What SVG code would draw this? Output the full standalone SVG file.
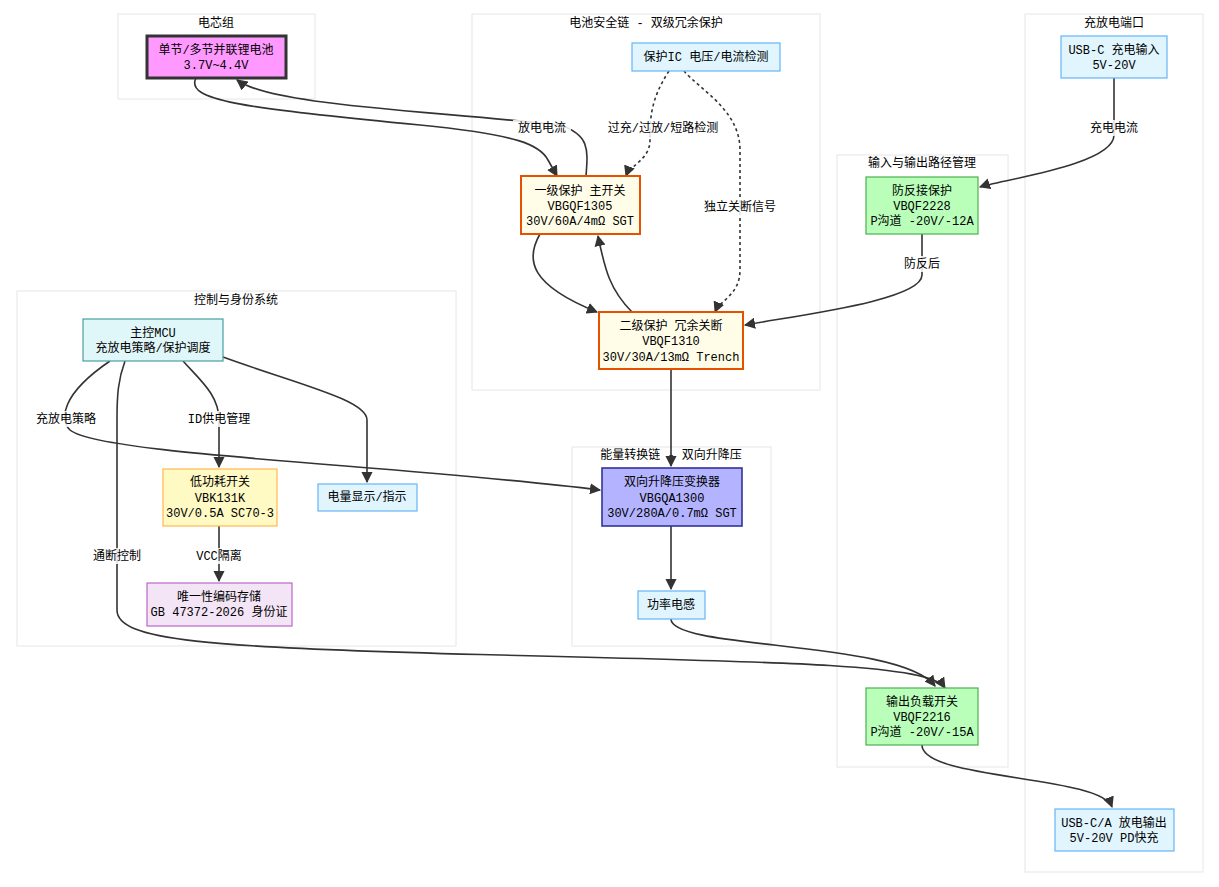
<svg xmlns="http://www.w3.org/2000/svg" width="1219" height="887" viewBox="0 0 1219 887">
<defs>
<marker id="ah" viewBox="0 0 10 10" refX="9" refY="5" markerWidth="7" markerHeight="7" orient="auto-start-reverse"><path d="M0,0 L10,5 L0,10 z" fill="#333"/></marker>
<style>
text{font-family:"Liberation Mono","Noto Sans CJK SC",monospace;font-size:12px;fill:#000;text-anchor:middle}
.cl{fill:#fff;stroke:#e6e6e6;stroke-width:1}
.e{fill:none;stroke:#333;stroke-width:1.6}
.d{stroke-dasharray:3 3}
.lb{fill:#fff;opacity:.85}
.blue{fill:#e1f5fe;stroke:#64b5f6;stroke-width:1.2}
.org{fill:#fffde7;stroke:#e65100;stroke-width:2}
.grn{fill:#b9ffb9;stroke:#4caf50;stroke-width:1.2}
</style>
</defs>
<rect width="1219" height="887" fill="#fff"/>
<g id="clusters">
<rect class="cl" x="118" y="14" width="197" height="85"/><text x="216" y="27">电芯组</text>
<rect class="cl" x="472" y="14" width="348" height="376"/><text x="646" y="27">电池安全链 - 双级冗余保护</text>
<rect class="cl" x="17" y="291" width="439" height="355"/><text x="236" y="304">控制与身份系统</text>
<rect class="cl" x="572" y="447" width="199" height="199"/><text x="671" y="459">能量转换链 - 双向升降压</text>
<rect class="cl" x="837" y="155" width="171" height="612"/><text x="922" y="167">输入与输出路径管理</text>
<rect class="cl" x="1025" y="14" width="178" height="858"/><text x="1114" y="27">充放电端口</text>
</g>
<g id="connectors">
<path class="e" marker-end="url(#ah)" d="M196,78 C185,100 240,108 420,125 C520,135 540,145 548,160 L557,176"/>
<path class="e" marker-end="url(#ah)" d="M586,176 C588,150 590,135 560,125 C420,110 270,105 237,80"/>
<path class="e d" marker-end="url(#ah)" d="M669,71 C650,100 650,120 650,140 C650,160 630,165 626,176"/>
<path class="e d" marker-end="url(#ah)" d="M684,71 C700,90 740,110 740,150 L740,270 C740,295 720,300 715,312"/>
<path class="e" marker-end="url(#ah)" d="M540,234 C525,260 530,285 597,312"/>
<path class="e" marker-end="url(#ah)" d="M632,312 C610,290 605,270 598,236"/>
<path class="e" marker-end="url(#ah)" d="M1114,78 L1114,135 C1114,165 1000,180 980,187"/>
<path class="e" marker-end="url(#ah)" d="M922,234 L922,275 C922,300 800,315 745,325"/>
<path class="e" marker-end="url(#ah)" d="M671,369 L671,466"/>
<path class="e" marker-end="url(#ah)" d="M110,361 C60,395 60,420 70,430 C100,455 400,465 600,490"/>
<path class="e" marker-end="url(#ah)" d="M183,361 C200,380 219,395 219,420 L219,467"/>
<path class="e" marker-end="url(#ah)" d="M223,357 C300,385 367,400 367,420 L367,482"/>
<path class="e" marker-end="url(#ah)" d="M125,361 C118,380 117,395 117,420 L117,610 C117,640 200,648 500,655 C800,662 930,665 945,688"/>
<path class="e" marker-end="url(#ah)" d="M219,526 L219,581"/>
<path class="e" marker-end="url(#ah)" d="M671,526 L671,589"/>
<path class="e" marker-end="url(#ah)" d="M671,619 C671,650 900,640 935,686"/>
<path class="e" marker-end="url(#ah)" d="M922,745 C922,780 1100,775 1112,807"/>
<rect class="lb" x="513" y="120" width="58" height="16"/><text x="542" y="132">放电电流</text>
<rect class="lb" x="602" y="120" width="122" height="16"/><text x="663" y="132">过充/过放/短路检测</text>
<rect class="lb" x="700" y="199" width="80" height="16"/><text x="740" y="211">独立关断信号</text>
<rect class="lb" x="1086" y="120" width="56" height="16"/><text x="1114" y="132">充电电流</text>
<rect class="lb" x="901" y="256" width="42" height="16"/><text x="922" y="268">防反后</text>
<rect class="lb" x="31" y="411" width="70" height="16"/><text x="66" y="423">充放电策略</text>
<rect class="lb" x="186" y="411" width="66" height="16"/><text x="219" y="423">ID供电管理</text>
<rect class="lb" x="89" y="548" width="56" height="16"/><text x="117" y="560">通断控制</text>
<rect class="lb" x="194" y="548" width="50" height="16"/><text x="219" y="560">VCC隔离</text>
</g>
<g id="battery"><rect x="147" y="36" width="139" height="42" fill="#ff99ff" stroke="#333" stroke-width="3"/><text x="216" y="54">单节/多节并联锂电池</text><text x="216" y="69">3.7V~4.4V</text></g>
<g id="protic"><rect class="blue" x="632" y="43" width="148" height="28"/><text x="706" y="61">保护IC 电压/电流检测</text></g>
<g id="prot1"><rect class="org" x="521" y="176" width="119" height="58"/><text x="580" y="195">一级保护 主开关</text><text x="580" y="210">VBGQF1305</text><text x="580" y="225">30V/60A/4mΩ SGT</text></g>
<g id="prot2"><rect class="org" x="599" y="312" width="144" height="57"/><text x="671" y="330">二级保护 冗余关断</text><text x="671" y="345">VBQF1310</text><text x="671" y="361">30V/30A/13mΩ Trench</text></g>
<g id="mcu"><rect x="83" y="319" width="140" height="42" fill="#e0f7fa" stroke="#4a9e9e" stroke-width="1.2"/><text x="153" y="337">主控MCU</text><text x="153" y="352">充放电策略/保护调度</text></g>
<g id="lowsw"><rect x="163" y="469" width="114" height="57" fill="#fff9c4" stroke="#ffb74d" stroke-width="1.2"/><text x="220" y="486">低功耗开关</text><text x="220" y="502">VBK131K</text><text x="220" y="517">30V/0.5A SC70-3</text></g>
<g id="display"><rect class="blue" x="318" y="484" width="99" height="27"/><text x="367" y="501">电量显示/指示</text></g>
<g id="idstore"><rect x="147" y="583" width="145" height="43" fill="#f3e5f5" stroke="#ba68c8" stroke-width="1.2"/><text x="219" y="601">唯一性编码存储</text><text x="219" y="616">GB 47372-2026 身份证</text></g>
<g id="conv"><rect x="602" y="468" width="140" height="58" fill="#b3b3ff" stroke="#333399" stroke-width="1.6"/><text x="672" y="486">双向升降压变换器</text><text x="672" y="502">VBGQA1300</text><text x="672" y="517">30V/280A/0.7mΩ SGT</text></g>
<g id="inductor"><rect class="blue" x="638" y="591" width="67" height="28"/><text x="671" y="609">功率电感</text></g>
<g id="revprot"><rect class="grn" x="866" y="177" width="112" height="57"/><text x="922" y="195">防反接保护</text><text x="922" y="210">VBQF2228</text><text x="922" y="225">P沟道 -20V/-12A</text></g>
<g id="loadsw"><rect class="grn" x="866" y="688" width="112" height="57"/><text x="922" y="706">输出负载开关</text><text x="922" y="721">VBQF2216</text><text x="922" y="736">P沟道 -20V/-15A</text></g>
<g id="usbin"><rect class="blue" x="1061" y="36" width="106" height="42"/><text x="1114" y="54">USB-C 充电输入</text><text x="1114" y="69">5V-20V</text></g>
<g id="usbout"><rect class="blue" x="1055" y="809" width="119" height="42"/><text x="1114" y="827">USB-C/A 放电输出</text><text x="1114" y="842">5V-20V PD快充</text></g>
</svg>
